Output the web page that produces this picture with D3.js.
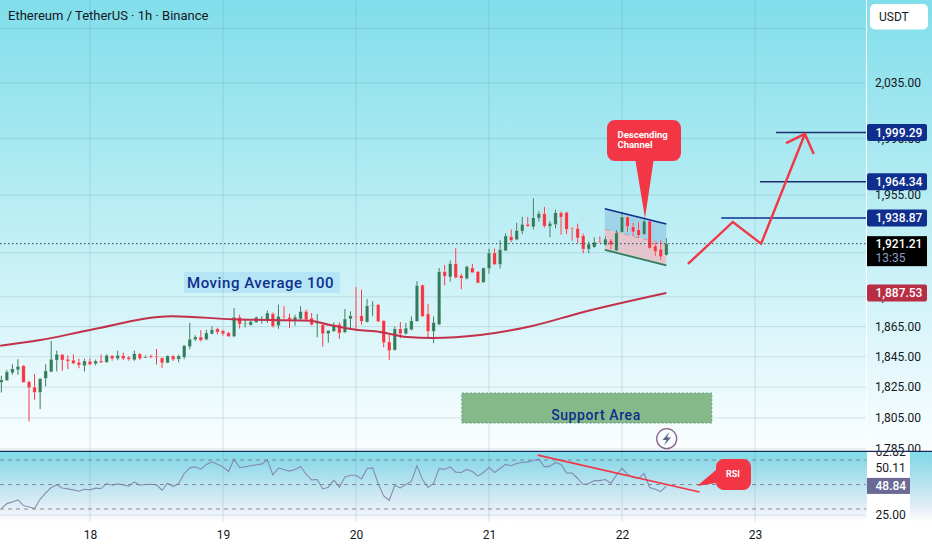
<!DOCTYPE html>
<html>
<head>
<meta charset="utf-8">
<script src="https://cdnjs.cloudflare.com/ajax/libs/d3/7.8.5/d3.min.js"></script>
<style>
html, body { margin: 0; padding: 0; background: #fff; overflow: hidden; }
text { font-family: Roboto, sans-serif; }
</style>
</head>
<body>
<div id="chart"></div>
<script>
const width = 932;
const height = 550;

// hours are counted from the 18th 00:00, first candle is at hour -16
const firstHour = -16;
const opens = [1828.1,1829.4,1834.4,1836.3,1839.0,1828.5,1825.0,1821.5,1830.7,1835.0,1842.7,1846.4,1843.3,1842.7,1841.3,1839.0,
    1842.0,1840.3,1842.2,1841.3,1845.7,1843.7,1845.7,1844.6,1842.9,1846.8,1844.2,1845.5,1845.3,1844.2,1840.9,1845.5,1843.3,1844.6,1851.6,1856.3,1858.1,1856.3,1860.1,1863.5,1862.2,1860.8,1858.4,1871.3,1866.6,
    1866.0,1867.8,1869.2,1869.6,1873.6,1865.6,1871.9,1871.2,1869.2,1870.1,1875.2,1870.7,1866.7,1866.2,1860.2,1861.8,1866.5,1861.1,1870.1,1871.9,1872.3,1868.0,1878.6,1879.7,1868.9,1854.8,1849.4,1863.5,1860.2,1862.9,1868.5,1892.9,1873.6,1861.8,
    1866.3,1902.1,1898.4,1907.6,1899.5,1897.3,1904.6,1902.1,1894.7,1904.1,1914.9,1906.9,1916.3,1926.2,1923.9,1929.8,1934.6,1932.8,1938.8,1942.0,1933.0,1934.4,1942.7,1942.9,
    1932.1,1931.7,1926.8,1917.4,1918.8,1922.8,1920.4,1923.5,1916.4,1929.1,1939.7,1932.9,1931.0,1927.5,1936.8,1919.7,1917.4,1913.4];
const highs = [1832.4,1836.3,1840.0,1843.3,1839.4,1829.2,1833.7,1830.9,1840.0,1855.4,1849.0,1846.8,1845.9,1846.6,1843.7,1843.7,
    1844.0,1843.1,1846.4,1846.6,1845.9,1849.0,1847.7,1845.5,1849.0,1847.4,1845.9,1846.4,1850.1,1844.6,1845.9,1845.9,1846.4,1852.8,1867.5,1859.2,1862.6,1862.8,1865.3,1864.2,1863.0,1861.5,1877.4,1872.9,1869.8,
    1868.9,1871.9,1871.9,1875.7,1874.5,1879.7,1878.6,1873.6,1873.0,1878.6,1876.3,1874.1,1873.4,1867.4,1862.4,1867.8,1867.8,1876.8,1875.2,1891.6,1889.8,1883.5,1882.0,1880.2,1869.2,1859.5,1865.1,1868.0,1867.4,1871.9,1895.6,1893.4,1880.2,1871.9,
    1904.6,1906.7,1909.6,1918.1,1900.7,1906.2,1907.3,1902.5,1904.8,1917.7,1917.9,1923.6,1928.4,1931.0,1935.6,1939.7,1939.7,1952.8,1943.6,1946.6,1936.9,1944.7,1943.4,1943.4,
    1932.6,1935.0,1928.2,1922.8,1925.6,1926.3,1926.3,1924.4,1930.5,1943.2,1939.9,1935.7,1936.1,1939.2,1936.8,1921.6,1923.5,1925.1];
const lows = [1821.5,1829.0,1833.1,1833.1,1828.1,1802.8,1816.8,1810.7,1825.5,1834.8,1835.3,1835.7,1836.8,1840.0,1837.4,1835.3,
    1839.4,1839.4,1840.9,1841.1,1842.4,1842.7,1842.7,1842.4,1842.2,1842.7,1844.0,1844.0,1839.8,1837.6,1840.7,1842.2,1841.3,1843.3,1849.9,1855.4,1855.0,1855.9,1859.7,1859.7,1859.0,1858.1,1857.9,1863.7,1864.4,
    1865.8,1867.4,1866.9,1867.4,1864.4,1863.5,1870.1,1864.0,1865.6,1869.6,1869.2,1865.6,1857.9,1851.7,1854.3,1861.5,1856.8,1860.6,1862.9,1862.2,1866.2,1867.8,1871.9,1868.3,1851.2,1842.7,1849.0,1857.3,1859.5,1862.4,1868.3,1871.4,1857.3,1853.9,
    1866.1,1892.9,1895.2,1897.5,1890.1,1896.6,1901.2,1894.3,1894.5,1900.7,1906.7,1904.1,1916.1,1922.3,1923.4,1927.8,1932.8,1931.0,1936.5,1932.3,1925.7,1931.7,1927.3,1927.8,
    1923.2,1921.6,1914.6,1914.6,1918.1,1921.6,1919.7,1917.4,1916.0,1928.6,1929.1,1926.3,1925.1,1927.0,1917.4,1912.7,1909.9,1912.9];
const closes = [1829.8,1835.0,1837.0,1838.7,1828.1,1824.6,1821.5,1830.5,1835.7,1843.3,1846.6,1842.7,1842.0,1840.5,1839.4,1842.2,
    1839.8,1842.2,1841.1,1845.9,1843.7,1845.9,1843.7,1843.3,1847.0,1843.7,1844.8,1844.6,1844.6,1840.9,1845.5,1843.1,1845.5,1852.3,1856.6,1858.1,1855.9,1860.8,1863.0,1861.3,1860.1,1858.4,1871.3,1866.6,1867.1,
    1868.3,1871.2,1869.6,1874.1,1865.1,1871.9,1871.4,1869.6,1871.4,1875.2,1869.6,1866.2,1867.4,1860.2,1862.4,1866.2,1860.6,1870.1,1872.3,1871.4,1868.5,1879.0,1879.3,1868.3,1854.3,1849.0,1863.5,1860.2,1864.0,1868.9,1892.7,1871.9,1861.8,1867.8,
    1902.1,1898.9,1907.6,1897.9,1897.5,1905.5,1901.4,1894.3,1904.6,1914.9,1906.9,1917.2,1926.6,1923.4,1930.3,1934.6,1933.3,1939.2,1942.0,1933.3,1935.3,1942.7,1939.5,1931.0,
    1931.7,1925.1,1917.4,1920.9,1922.3,1922.1,1924.4,1920.4,1928.6,1939.7,1932.9,1929.3,1926.8,1936.8,1918.1,1915.7,1912.2,1921.1];

const maHours = [-16.2,-9,0,14.8,25.8,39.7,43.3,48,52.3,57.2,61.9,70.4,80,88.4,104];
const maValues = [1852.3,1856.0,1862.7,1871.9,1869.9,1868.9,1866.0,1862.9,1861.4,1858.0,1857.4,1859.4,1865.6,1874.1,1887.53];

const rsiValues = [30.3,34.4,35.8,37.4,32.8,31.7,30.3,37.9,43.1,47.5,49.7,47.2,46.4,45.6,44.5,46.1,
    45.6,47.0,46.7,50.8,49.4,50.5,49.7,48.6,52.1,49.4,50.0,50.2,49.7,45.3,51.1,48.3,50.8,59.0,63.6,64.4,62.5,66.4,68.5,66.6,64.4,60.6,70.7,63.9,64.4,65.3,66.1,66.6,70.2,57.9,63.4,62.3,60.9,62.3,64.7,58.4,53.8,54.1,46.4,47.8,53.5,47.8,56.2,57.6,
    57.6,54.6,63.1,63.6,50.8,40.7,37.1,49.4,47.2,50.0,52.7,65.3,54.1,47.5,50.8,63.1,62.3,64.4,60.1,59.8,62.3,60.6,56.8,59.8,63.9,59.8,63.1,66.4,65.3,67.2,68.0,68.5,69.6,70.7,64.4,65.0,68.0,66.4,59.5,59.3,54.9,50.0,50.8,53.2,53.2,54.1,51.1,57.6,63.1,58.2,55.7,54.9,59.0,47.5,46.1,44.2,48.8];

const dayLabels = ["18", "19", "20", "21", "22", "23"];
const dayHours = [0, 24, 48, 72, 96, 120];
const priceTicks = [2035, 1995, 1955, 1915, 1885, 1865, 1845, 1825, 1805, 1785];
const priceGrid = [2075, 2035, 1995, 1955, 1915, 1885, 1865, 1845, 1825, 1805, 1785];
const rsiLevels = [70, 50, 30];
const rsiGrid = [25];
const targets = [1999.29, 1964.34, 1938.87];
const targetHours = [123.8, 120.9, 113.9];
const lastPrice = 1921.21;
const maLast = 1887.53;
const rsiLast = 48.84;
const rsiPlotLabels = ["62.82", "50.11"];
const rsiPlotValues = [76.6, 63.5];
const rsiTickLabel = 25;

// drawings, given in hours and prices like the candles
const channelHours = [92.9, 104];
const channelTop = [1945.4, 1934.8];
const channelMid = [1931.1, 1920.6];
const channelBottom = [1916.9, 1906.4];
const arrowHours = [107.9, 116.0, 121.1, 129.0];
const arrowPrices = [1907.3, 1936.2, 1921.2, 1998.2];
const headHours = [125.6, 129.0, 130.6];
const headPrices = [1991.7, 1998.2, 1983.9];
const supportHours = [67.1, 112.2];
const supportPrices = [1821.1, 1801.7];
const rsiTrendHours = [80.8, 110];
const rsiTrendValues = [74, 43.9];

const green = "#2f7d5c";
const red = "#f23645";
const navy = "#0e2f8e";
const ink = "#131722";

const x = d3.scaleLinear().domain([0, 24]).range([90, 223]);
const y = d3.scaleLog().domain([2035, 1785]).range([83, 449]);
const yRsi = d3.scaleLinear().domain([70, 30]).range([460, 509]);
const fmt = d3.format(",.2f");

const svg = d3.select("#chart").append("svg")
    .attr("width", width)
    .attr("height", height)
    .style("display", "block");

const defs = svg.append("defs");
function gradient(id, stops) {
    const g = defs.append("linearGradient").attr("id", id)
        .attr("x1", 0).attr("x2", 0).attr("y1", 0).attr("y2", 1);
    stops.forEach(s => g.append("stop").attr("offset", s[0]).attr("stop-color", s[1]));
}
gradient("mainBg", [[0, "#80deea"], [1, "#fbfeff"]]);
gradient("rsiBg", [[0, "#80deea"], [0.12, "#8fd9e8"], [0.8, "#e4eef6"], [1, "#ffffff"]]);
defs.append("clipPath").attr("id", "mainClip").append("rect")
    .attr("width", width).attr("height", 451);
defs.append("clipPath").attr("id", "rsiClip").append("rect")
    .attr("y", 451).attr("width", width).attr("height", 99);

svg.append("rect").attr("width", width).attr("height", height).attr("fill", "#fff");
svg.append("rect").attr("width", width).attr("height", 451).attr("fill", "url(#mainBg)");
svg.append("rect").attr("y", 452).attr("width", width).attr("height", 70).attr("fill", "url(#rsiBg)");
svg.append("rect").attr("x", 867).attr("y", 452).attr("width", 43).attr("height", 70).attr("fill", "#fff");

// grid
const gridColor = "#5f8ca0";
svg.append("g").selectAll("line").data(priceGrid).join("line")
    .attr("x1", 0).attr("x2", 866)
    .attr("y1", d => y(d)).attr("y2", d => y(d))
    .attr("stroke", gridColor).attr("stroke-opacity", 0.22);
svg.append("g").selectAll("line").data(dayHours).join("line")
    .attr("x1", d => x(d)).attr("x2", d => x(d))
    .attr("y1", 0).attr("y2", 522)
    .attr("stroke", gridColor).attr("stroke-opacity", 0.22);
svg.append("g").selectAll("line").data(rsiGrid).join("line")
    .attr("x1", 0).attr("x2", 866)
    .attr("y1", d => yRsi(d)).attr("y2", d => yRsi(d))
    .attr("stroke", gridColor).attr("stroke-opacity", 0.18);

// RSI pane
svg.append("g").selectAll("line").data(rsiLevels).join("line")
    .attr("x1", 0).attr("x2", 866)
    .attr("y1", d => yRsi(d)).attr("y2", d => yRsi(d))
    .attr("stroke", "#787b86").attr("stroke-dasharray", "4 4").attr("stroke-opacity", 0.85);
const rsiLine = d3.line()
    .x((d, i) => x(firstHour + i))
    .y(d => yRsi(d));
svg.append("path").datum(rsiValues)
    .attr("d", rsiLine)
    .attr("fill", "none").attr("stroke", "#7e7ea6").attr("stroke-opacity", 0.85).attr("stroke-width", 1.1);
svg.append("line")
    .attr("x1", x(rsiTrendHours[0])).attr("x2", x(rsiTrendHours[1]))
    .attr("y1", yRsi(rsiTrendValues[0])).attr("y2", yRsi(rsiTrendValues[1]))
    .attr("stroke", red).attr("stroke-width", 1.6);

// support area
const support = svg.append("g");
support.append("rect")
    .attr("x", x(supportHours[0])).attr("y", y(supportPrices[0]))
    .attr("width", x(supportHours[1]) - x(supportHours[0]))
    .attr("height", y(supportPrices[1]) - y(supportPrices[0]))
    .attr("fill", "#86b98a").attr("stroke", "#5f9a78").attr("stroke-dasharray", "2 2");
support.append("text")
    .attr("x", 596).attr("y", 420)
    .attr("text-anchor", "middle")
    .attr("fill", navy)
    .style("font-size", "14px").style("font-weight", 500).style("letter-spacing", "0.6px")
    .text("Support Area");

// channel behind the candles
function band(top, bottom, fill) {
    svg.append("polygon")
        .attr("points", [
            [x(channelHours[0]), y(top[0])], [x(channelHours[1]), y(top[1])],
            [x(channelHours[1]), y(bottom[1])], [x(channelHours[0]), y(bottom[0])]
        ].join(" "))
        .attr("fill", fill);
}
band(channelTop, channelMid, "#9dd4ea");
band(channelMid, channelBottom, "#e3c6cd");

// candles
const candles = opens.map((o, i) => ({
    hour: firstHour + i, o: o, h: highs[i], l: lows[i], c: closes[i]
}));
const candle = svg.append("g").selectAll("g").data(candles).join("g");
candle.append("line")
    .attr("x1", d => x(d.hour)).attr("x2", d => x(d.hour))
    .attr("y1", d => y(d.h)).attr("y2", d => y(d.l))
    .attr("stroke", "#fff").attr("stroke-opacity", 0.4).attr("stroke-width", 2.4);
candle.append("line")
    .attr("x1", d => x(d.hour)).attr("x2", d => x(d.hour))
    .attr("y1", d => y(d.h)).attr("y2", d => y(d.l))
    .attr("stroke", d => d.c >= d.o ? green : red).attr("stroke-width", 1);
candle.append("rect")
    .attr("x", d => x(d.hour) - 1.75)
    .attr("y", d => y(Math.max(d.o, d.c)))
    .attr("width", 3.5)
    .attr("height", d => Math.max(1, Math.abs(y(d.o) - y(d.c))))
    .attr("fill", d => d.c >= d.o ? green : red)
    .attr("stroke", "#fff").attr("stroke-opacity", 0.45).attr("stroke-width", 0.7);

// channel lines over the candles
[[channelTop, navy, 1.6], [channelMid, red, 0.8], [channelBottom, green, 1.8]].forEach(s => {
    svg.append("line")
        .attr("x1", x(channelHours[0])).attr("x2", x(channelHours[1]))
        .attr("y1", y(s[0][0])).attr("y2", y(s[0][1]))
        .attr("stroke", s[1]).attr("stroke-width", s[2])
        .attr("stroke-opacity", s[1] === red ? 0.55 : 1)
        .attr("stroke-dasharray", s[1] === red ? "5 5" : null);
});

// moving average
const maLine = d3.line()
    .x((d, i) => x(maHours[i]))
    .y(d => y(d))
    .curve(d3.curveMonotoneX);
svg.append("path").datum(maValues)
    .attr("d", maLine)
    .attr("fill", "none").attr("stroke", "#c2304a").attr("stroke-width", 2);

// last price line
svg.append("line")
    .attr("x1", 0).attr("x2", 866)
    .attr("y1", y(lastPrice)).attr("y2", y(lastPrice))
    .attr("stroke", "#2a4a55").attr("stroke-width", 1).attr("stroke-dasharray", "1.5 2.5");

// target lines
svg.append("g").selectAll("line").data(targets).join("line")
    .attr("x1", (d, i) => x(targetHours[i])).attr("x2", 866)
    .attr("y1", d => y(d)).attr("y2", d => y(d))
    .attr("stroke", (d, i) => i === 2 ? navy : "#1b2f6b").attr("stroke-width", 1.5);

// projected path
const arrowLine = d3.line().x((d, i) => x(arrowHours[i])).y(d => y(d));
svg.append("path").datum(arrowPrices).attr("d", arrowLine)
    .attr("fill", "none").attr("stroke", red).attr("stroke-width", 2.4);
const headLine = d3.line().x((d, i) => x(headHours[i])).y(d => y(d));
svg.append("path").datum(headPrices).attr("d", headLine)
    .attr("fill", "none").attr("stroke", red).attr("stroke-width", 2.4);

// Moving Average label
svg.append("rect").attr("x", 184).attr("y", 272).attr("width", 156).attr("height", 21)
    .attr("fill", "#2196f3").attr("fill-opacity", 0.13);
svg.append("text").attr("x", 187).attr("y", 288)
    .attr("fill", navy)
    .style("font-size", "15px").style("font-weight", 500).style("letter-spacing", "0.55px")
    .text("Moving Average 100");

// Descending Channel callout
svg.append("path")
    .attr("d", "M615,120H673a8,8 0 0 1 8,8V153a8,8 0 0 1 -8,8H653.5L645,218L635.5,161H615a8,8 0 0 1 -8,-8V128a8,8 0 0 1 8,-8Z")
    .attr("fill", red);
svg.append("text").attr("x", 617.5).attr("y", 138)
    .attr("fill", "#fff").style("font-size", "9.5px").style("font-weight", 700)
    .text("Descending");
svg.append("text").attr("x", 617.5).attr("y", 148)
    .attr("fill", "#fff").style("font-size", "9.5px").style("font-weight", 700)
    .text("Channel");

// RSI callout
svg.append("path")
    .attr("d", "M724,459H743a8,8 0 0 1 8,8V482a8,8 0 0 1 -8,8H724a8,8 0 0 1 -8,-7L697,486L716,470V467a8,8 0 0 1 8,-8Z")
    .attr("fill", red);
svg.append("text").attr("x", 733).attr("y", 477)
    .attr("text-anchor", "middle")
    .attr("fill", "#fff").style("font-size", "9px").style("font-weight", 700)
    .text("RSI");

// lightning badge
svg.append("circle").attr("cx", 666.7).attr("cy", 438.7).attr("r", 10)
    .attr("fill", "none").attr("stroke", "#8a5f8f").attr("stroke-width", 1.3);
svg.append("path")
    .attr("d", "M669.5,432L662.5,440H666.5L664,445.5L671,437.5H667Z")
    .attr("fill", "#5d6288");

// price axis
svg.append("line").attr("x1", 866.5).attr("x2", 866.5).attr("y1", 0).attr("y2", 451)
    .attr("stroke", "#fff").attr("stroke-width", 1);
const priceAxis = d3.axisRight(y)
    .tickValues(priceTicks)
    .tickFormat(d => fmt(d))
    .tickSize(0)
    .tickPadding(9);
const priceG = svg.append("g")
    .attr("transform", "translate(866,0)")
    .attr("clip-path", "url(#mainClip)")
    .call(priceAxis);
priceG.select(".domain").remove();
priceG.selectAll("text").attr("fill", ink).style("font-size", "12px").style("font-family", "Roboto, sans-serif");

// USDT badge
svg.append("rect").attr("x", 870).attr("y", 4).attr("width", 58).attr("height", 25.5).attr("rx", 5)
    .attr("fill", "#fff");
svg.append("text").attr("x", 879).attr("y", 21)
    .attr("fill", ink).style("font-size", "12px").text("USDT");

// price labels on the axis
function priceBox(val, fill) {
    svg.append("rect")
        .attr("x", 867).attr("y", y(val) - 8.5).attr("width", 60).attr("height", 17).attr("rx", 2)
        .attr("fill", fill);
    svg.append("text")
        .attr("x", 875.5).attr("y", y(val) + 4.3)
        .attr("fill", "#fff").style("font-size", "12px").style("font-weight", 500)
        .text(fmt(val));
}
targets.forEach(t => priceBox(t, navy));
priceBox(maLast, "#b82e45");

svg.append("rect")
    .attr("x", 867).attr("y", y(lastPrice) - 7.5).attr("width", 60).attr("height", 30)
    .attr("fill", "#000");
svg.append("text")
    .attr("x", 875.5).attr("y", y(lastPrice) + 4.3)
    .attr("fill", "#fff").style("font-size", "12px").style("font-weight", 500)
    .text(fmt(lastPrice));
svg.append("text")
    .attr("x", 875.5).attr("y", y(lastPrice) + 18)
    .attr("fill", "#8d9fc0").style("font-size", "12px")
    .text("13:35");

// RSI axis labels
const rsiLabels = svg.append("g").attr("clip-path", "url(#rsiClip)");
rsiPlotLabels.forEach((t, i) => {
    rsiLabels.append("text")
        .attr("x", 875.5).attr("y", yRsi(rsiPlotValues[i]) + 4.3)
        .attr("fill", ink).style("font-size", "12px").text(t);
});
rsiLabels.append("text")
    .attr("x", 875.5).attr("y", yRsi(rsiTickLabel) + 4.3)
    .attr("fill", ink).style("font-size", "12px").text(d3.format(".2f")(rsiTickLabel));
svg.append("rect")
    .attr("x", 867).attr("y", yRsi(rsiLast) - 8).attr("width", 43).attr("height", 16)
    .attr("fill", "#6a6a94");
svg.append("text")
    .attr("x", 875.5).attr("y", yRsi(rsiLast) + 4.3)
    .attr("fill", "#fff").style("font-size", "12px").style("font-weight", 500)
    .text(d3.format(".2f")(rsiLast));

// pane divider
svg.append("line").attr("x1", 0).attr("x2", width).attr("y1", 451.3).attr("y2", 451.3)
    .attr("stroke", "#1b2a55").attr("stroke-width", 1.2);

// time axis
const timeAxis = d3.axisBottom(x)
    .tickValues(dayHours)
    .tickFormat((d, i) => dayLabels[i])
    .tickSize(0)
    .tickPadding(8);
const timeG = svg.append("g").attr("transform", "translate(0,522)").call(timeAxis);
timeG.select(".domain").remove();
timeG.selectAll("text").attr("fill", ink).style("font-size", "12px").style("font-family", "Roboto, sans-serif");

// title
svg.append("text").attr("x", 8).attr("y", 20)
    .attr("fill", ink).style("font-size", "13px")
    .text("Ethereum / TetherUS · 1h · Binance");
</script>
</body>
</html>
